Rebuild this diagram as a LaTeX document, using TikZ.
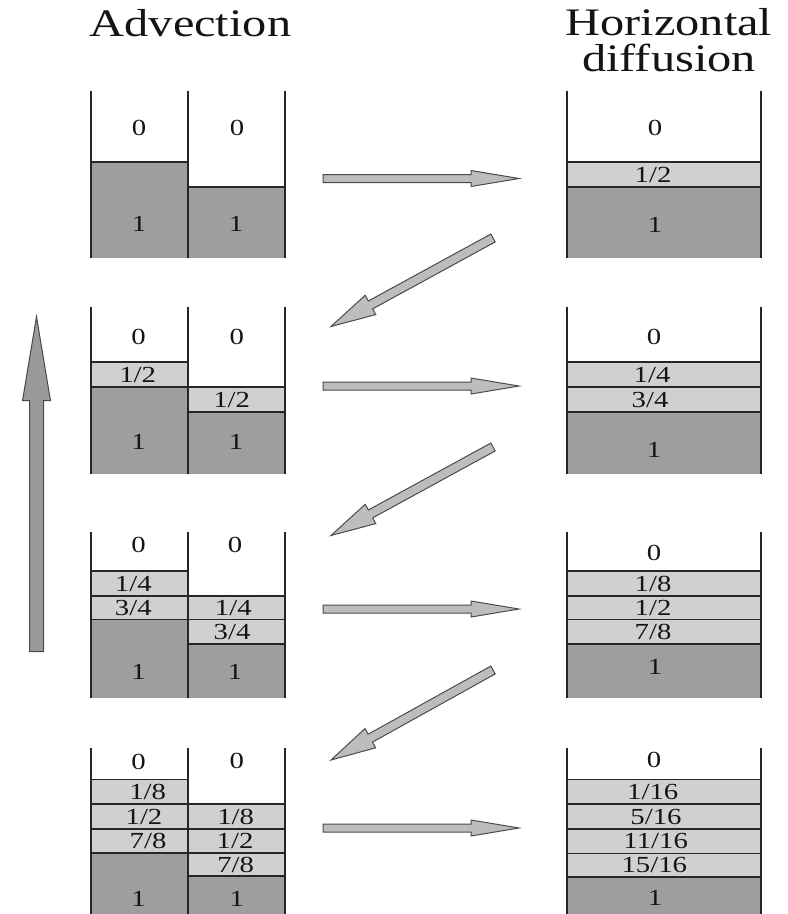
\documentclass[tikz,border=0pt]{standalone}
\usepackage{fontspec}
\setmainfont{Liberation Serif}
\newfontfamily\cellfont[FakeStretch=1.25]{Liberation Serif}
\newfontfamily\titlefont[FakeStretch=1.24]{Liberation Serif}
\usetikzlibrary{calc}

\definecolor{wallgray}{HTML}{262626}
\definecolor{fullgray}{HTML}{9E9E9E}
\definecolor{partgray}{HTML}{D0D0D0}
\definecolor{arrowgray}{HTML}{BDBDBD}
\definecolor{uparrowgray}{HTML}{9A9A9A}
\definecolor{edgegray}{HTML}{4A4A4A}

\tikzset{
  wall/.style={draw=wallgray, line width=2.2pt},
  sepline/.style={draw=wallgray, line width=1.6pt},
  full/.style={fill=fullgray},
  part/.style={fill=partgray},
  cell/.style={font=\cellfont\fontsize{23}{23}\selectfont, inner sep=0pt,
    text height=15.5pt, text depth=0pt, text=black!92},
  title/.style={font=\titlefont\fontsize{39}{40}\selectfont, inner sep=0pt,
    anchor=base, text=black!92},
  flowarrow/.style={fill=arrowgray, draw=edgegray, line width=1pt, line join=miter},
  steparrow/.style={fill=uparrowgray, draw=edgegray, line width=1pt, line join=miter}
}

% a filled layer with its upper boundary line: style, x1, x2, top, bottom
\newcommand\band[5]{%
  \fill[#1] (#2,#4) rectangle (#3,#5);
  \draw[sepline] (#2,#4) -- (#3,#4);}

% a block arrow: style, tail, tip, shaft half-width, head half-width, head length
\newcommand\blockarrow[6]{%
  \coordinate (hb) at ($(#3)!#6!(#2)$);
  \filldraw[#1] ($(#2)!#4!90:(#3)$) -- ($(hb)!#4!90:(#3)$) -- ($(hb)!#5!90:(#3)$)
    -- (#3) -- ($(hb)!#5!-90:(#3)$) -- ($(hb)!#4!-90:(#3)$) -- ($(#2)!#4!-90:(#3)$) -- cycle;}

% container walls: top, bottom
\newcommand\advwalls[2]{%
  \draw[wall] (91,#1) -- (91,#2);
  \draw[wall] (188,#1) -- (188,#2);
  \draw[wall] (285,#1) -- (285,#2);}
\newcommand\difwalls[2]{%
  \draw[wall] (567,#1) -- (567,#2);
  \draw[wall] (761,#1) -- (761,#2);}

\begin{document}
\begin{tikzpicture}[x=1pt, y=-1pt]
\useasboundingbox (0,0) rectangle (788,914);

% titles
\node[title] (tadv) at (190.5,36) {Advection};
\node[title] (thor) at (669,35) {Horizontal};
\node[title] (tdif) at (669,71.7) {diffusion};

% ---------- step 1 ----------
\band{full}{91}{188}{161.7}{258}
\band{full}{188}{285}{186.7}{258}
\band{part}{567}{761}{161.7}{186.7}
\band{full}{567}{761}{186.7}{258}
\advwalls{91}{258}
\difwalls{91}{258}
\node[cell] (a1l0) at (139,128) {0};
\node[cell] (a1r0) at (237,128) {0};
\node[cell] (a1l1) at (139,224) {1};
\node[cell] (a1r1) at (236,224) {1};
\node[cell] (d1z) at (655,128) {0};
\node[cell] (d1h) at (653,175) {1/2};
\node[cell] (d1o) at (655,225) {1};

% ---------- step 2 ----------
\band{part}{91}{188}{361.7}{386.7}
\band{full}{91}{188}{386.7}{474}
\band{part}{188}{285}{386.7}{411.7}
\band{full}{188}{285}{411.7}{474}
\band{part}{567}{761}{361.7}{386.7}
\band{part}{567}{761}{386.7}{411.7}
\band{full}{567}{761}{411.7}{474}
\advwalls{307}{474}
\difwalls{307}{474}
\node[cell] (a2l0) at (138.5,336.7) {0};
\node[cell] (a2r0) at (236.7,336.7) {0};
\node[cell] (a2la) at (137.7,375) {1/2};
\node[cell] (a2ra) at (231.7,400) {1/2};
\node[cell] (a2l1) at (138.5,441.7) {1};
\node[cell] (a2r1) at (236,441.7) {1};
\node[cell] (d2z) at (654,336.7) {0};
\node[cell] (d2a) at (652,375) {1/4};
\node[cell] (d2b) at (650,400) {3/4};
\node[cell] (d2o) at (654,450) {1};

% ---------- step 3 ----------
\band{part}{91}{188}{571}{596}
\band{part}{91}{188}{596}{619.3}
\band{full}{91}{188}{619.3}{698}
\band{part}{188}{285}{596}{619.3}
\band{part}{188}{285}{619.3}{644}
\band{full}{188}{285}{644}{698}
\band{part}{567}{761}{571}{596}
\band{part}{567}{761}{596}{619.3}
\band{part}{567}{761}{619.3}{644}
\band{full}{567}{761}{644}{698}
\advwalls{532}{698}
\difwalls{532}{698}
\node[cell] (a3l0) at (138.5,545) {0};
\node[cell] (a3r0) at (235,545) {0};
\node[cell] (a3la) at (133.3,584) {1/4};
\node[cell] (a3lb) at (133.3,608) {3/4};
\node[cell] (a3ra) at (233.3,608) {1/4};
\node[cell] (a3rb) at (232,632) {3/4};
\node[cell] (a3l1) at (138.5,671.7) {1};
\node[cell] (a3r1) at (235,671.7) {1};
\node[cell] (d3z) at (654,553) {0};
\node[cell] (d3a) at (653,584) {1/8};
\node[cell] (d3b) at (653,608) {1/2};
\node[cell] (d3c) at (653,632) {7/8};
\node[cell] (d3o) at (655,666.7) {1};

% ---------- step 4 ----------
\band{part}{91}{188}{779.3}{804}
\band{part}{91}{188}{804}{828.7}
\band{part}{91}{188}{828.7}{852.7}
\band{full}{91}{188}{852.7}{914}
\band{part}{188}{285}{804}{828.7}
\band{part}{188}{285}{828.7}{852.7}
\band{part}{188}{285}{852.7}{876}
\band{full}{188}{285}{876}{914}
\band{part}{567}{761}{779.3}{804}
\band{part}{567}{761}{804}{828.7}
\band{part}{567}{761}{828.7}{853.3}
\band{part}{567}{761}{853.3}{876.7}
\band{full}{567}{761}{876.7}{914}
\advwalls{748}{914}
\difwalls{748}{914}
\node[cell] (a4l0) at (138.5,761.7) {0};
\node[cell] (a4r0) at (236.7,760.7) {0};
\node[cell] (a4la) at (147.7,792) {1/8};
\node[cell] (a4lb) at (144,816.5) {1/2};
\node[cell] (a4lc) at (148,841) {7/8};
\node[cell] (a4ra) at (235.7,816.5) {1/8};
\node[cell] (a4rb) at (235,841) {1/2};
\node[cell] (a4rc) at (235.7,864.5) {7/8};
\node[cell] (a4l1) at (138.5,899) {1};
\node[cell] (a4r1) at (236.7,899) {1};
\node[cell] (d4z) at (654,760) {0};
\node[cell] (d4a) at (652.7,792) {1/16};
\node[cell] (d4b) at (656,816.5) {5/16};
\node[cell] (d4c) at (655.7,841) {11/16};
\node[cell] (d4d) at (654.3,865) {15/16};
\node[cell] (d4o) at (655,898) {1};

% ---------- arrows ----------
\coordinate (h1s) at (323,178.5);  \coordinate (h1e) at (519,178.5);
\coordinate (h2s) at (323,386);    \coordinate (h2e) at (519,386);
\coordinate (h3s) at (323,609);    \coordinate (h3e) at (519,609);
\coordinate (h4s) at (323,828);    \coordinate (h4e) at (519,828);
\coordinate (g1s) at (493,238);    \coordinate (g1e) at (331,326.5);
\coordinate (g2s) at (493,447);    \coordinate (g2e) at (331,535.5);
\coordinate (g3s) at (493,670);    \coordinate (g3e) at (331,760);
\coordinate (vs) at (36.5,651.7);  \coordinate (ve) at (36.5,316.7);

\foreach \k in {1,2,3,4}{\blockarrow{flowarrow}{h\k s}{h\k e}{4pt}{8pt}{48pt}}
\foreach \k in {1,2,3}{\blockarrow{flowarrow}{g\k s}{g\k e}{4.5pt}{11pt}{45pt}}
\blockarrow{steparrow}{vs}{ve}{7pt}{14pt}{84pt}
\end{tikzpicture}
\end{document}
